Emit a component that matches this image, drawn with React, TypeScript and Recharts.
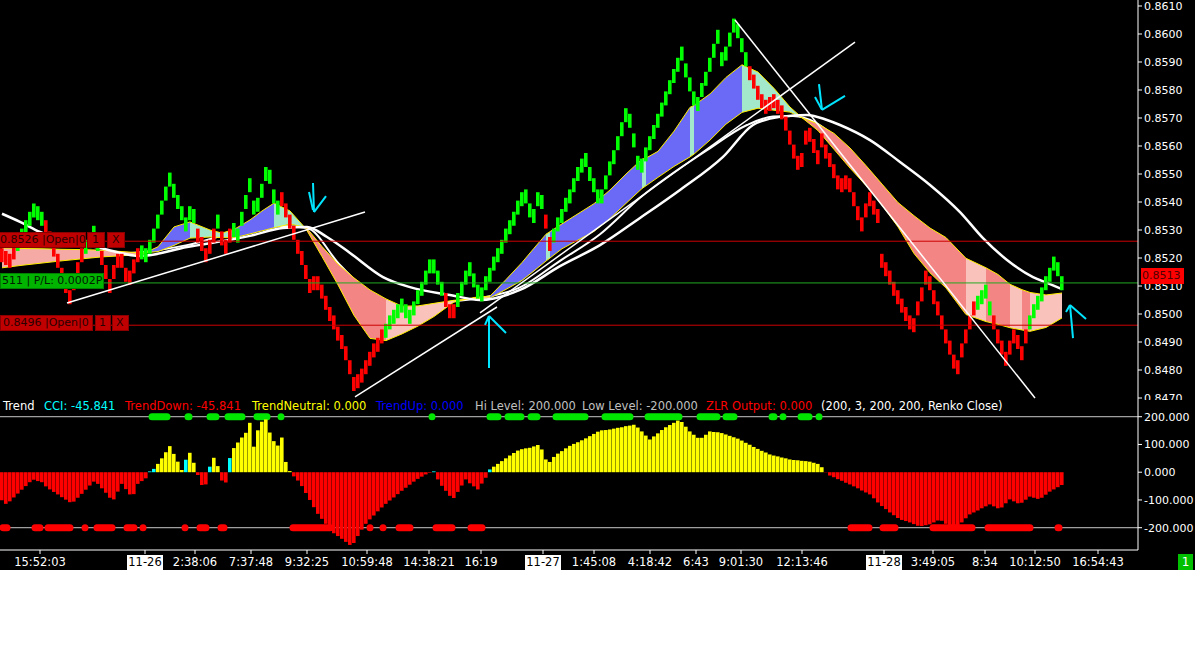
import React from 'react';
import { ComposedChart, Bar, Line, Area, XAxis, YAxis, ReferenceLine, Cell } from 'recharts';

// ---------- DATA (prices in 1e-4 units, x = bar index) ----------
const renkoClose = [
  8521, 8520, 8519, 8522, 8525, 8528, 8531, 8534, 8537, 8536,
  8534, 8531, 8527, 8523, 8519, 8514, 8510, 8506, 8511, 8516,
  8521, 8524, 8526, 8529, 8525, 8520, 8515, 8510, 8515, 8519,
  8519, 8514, 8513, 8517, 8521, 8522, 8521, 8524, 8528, 8533,
  8538, 8543, 8548, 8544, 8540, 8536, 8532, 8536, 8535, 8528,
  8525, 8521, 8524, 8528, 8533, 8527, 8524, 8528, 8530, 8528,
  8534, 8540, 8546, 8538, 8539, 8544, 8550, 8549, 8542, 8538,
  8541, 8537, 8533, 8529, 8524, 8520, 8515, 8510, 8511, 8511,
  8508, 8504, 8500, 8497, 8493, 8490, 8486, 8481, 8475, 8476,
  8478, 8481, 8484, 8487, 8489, 8492, 8494, 8497, 8499, 8501,
  8503, 8501, 8499, 8502, 8506, 8509, 8513, 8517, 8517, 8513,
  8509, 8505, 8501, 8501, 8505, 8509, 8513, 8516, 8512, 8508,
  8507, 8511, 8514, 8518, 8521, 8524, 8528, 8531, 8534, 8538,
  8541, 8542, 8537, 8535, 8541, 8540, 8533, 8525, 8528, 8532,
  8535, 8539, 8542, 8546, 8550, 8553, 8555, 8550, 8546, 8542,
  8542, 8547, 8552, 8556, 8561, 8566, 8571, 8569, 8562, 8554,
  8553, 8557, 8561, 8565, 8569, 8573, 8577, 8581, 8585, 8589,
  8593, 8587, 8582, 8577, 8575, 8580, 8584, 8589, 8594, 8599,
  8591, 8593, 8598, 8603, 8601, 8596, 8591, 8586, 8583, 8579,
  8576, 8574, 8575, 8576, 8574, 8572, 8568, 8563, 8558, 8554,
  8555, 8563, 8564, 8560, 8556, 8562, 8558, 8555, 8551, 8547,
  8546, 8547, 8546, 8541, 8536, 8532, 8537, 8541, 8538, 8535,
  8519, 8516, 8513, 8509, 8506, 8503, 8500, 8497, 8496, 8502,
  8507, 8513, 8511, 8506, 8502, 8497, 8492, 8488, 8483, 8481,
  8487, 8492, 8497, 8502, 8504, 8506, 8508, 8502, 8497, 8492,
  8488, 8484, 8488, 8492, 8490, 8486, 8492, 8497, 8501, 8504,
  8507, 8511, 8514, 8518, 8516, 8511,
];
// trend colour of each brick, run-length: G = up trend, R = down trend
const renkoColorRuns: [string, number][] = [
  ['R', 4], ['G', 7], ['R', 10], ['G', 4], ['R', 10], ['G', 14], ['R', 5], ['G', 1], ['R', 3], ['G', 12],
  ['R', 26], ['G', 15], ['R', 3], ['G', 22], ['R', 2], ['G', 49], ['R', 57], ['G', 4], ['R', 9], ['G', 9],
];
const BRICK_HALF = 2.5;

const ribbonIdx = [0, 5, 10, 15, 20, 25, 30, 35, 39, 43, 47, 52, 55, 58, 62, 65, 68, 72, 76, 80, 84, 88, 92, 96, 100, 104, 108, 113, 118, 122, 126, 130, 133, 136, 137, 140, 144, 148, 152, 156, 160, 161, 164, 168, 172, 173, 177, 181, 185, 189, 193, 197, 200, 204, 208, 212, 216, 220, 224, 228, 232, 236, 241, 246, 249, 252, 255, 257, 261, 265];
const ribbonFast = [8516.5, 8517.4, 8518.2, 8519.0, 8519.7, 8520.4, 8520.8, 8521.4, 8524.0, 8531.1, 8532.9, 8530.0, 8528.9, 8530.2, 8533.6, 8536.8, 8539.6, 8536.8, 8530.4, 8520.5, 8510.4, 8499.5, 8491.3, 8490.5, 8492.9, 8495.7, 8499.1, 8504.3, 8505.9, 8506.4, 8512.3, 8518.4, 8523.5, 8528.5, 8529.4, 8532.2, 8535.8, 8539.4, 8544.3, 8550.0, 8555.3, 8555.7, 8558.1, 8565.3, 8573.8, 8574.5, 8578.6, 8584.5, 8589.0, 8586.4, 8580.6, 8573.9, 8570.1, 8565.5, 8558.8, 8552.1, 8545.9, 8538.9, 8531.1, 8521.6, 8514.7, 8509.3, 8499.8, 8497.3, 8496.3, 8495.1, 8494.3, 8493.8, 8495.2, 8498.6];
const ribbonSlow = [8523.6, 8523.4, 8523.3, 8523.1, 8523.0, 8522.8, 8522.3, 8521.8, 8522.3, 8524.5, 8527.1, 8527.5, 8527.3, 8527.2, 8528.6, 8529.7, 8530.8, 8532.1, 8531.0, 8524.1, 8517.8, 8512.9, 8508.6, 8505.4, 8502.8, 8502.9, 8503.8, 8504.9, 8505.4, 8505.7, 8508.8, 8512.0, 8515.4, 8518.9, 8520.0, 8523.3, 8526.4, 8529.5, 8534.1, 8539.5, 8544.8, 8545.8, 8548.8, 8552.7, 8556.1, 8557.1, 8562.1, 8567.8, 8572.0, 8573.5, 8572.8, 8572.1, 8570.1, 8567.9, 8564.5, 8559.3, 8553.0, 8546.4, 8539.8, 8535.1, 8530.7, 8527.3, 8519.9, 8516.5, 8514.1, 8510.6, 8508.7, 8507.7, 8506.8, 8507.5];
const ribbonStates: [number, number, string][] = [
  [0, 35, 'weakDown'], [35, 47, 'up'], [47, 58, 'neutralUp'], [58, 68, 'up'], [68, 76, 'neutralUp'],
  [76, 96, 'down'], [96, 122, 'neutralDown'], [122, 136, 'up'], [136, 137, 'neutralUp'], [137, 160, 'up'],
  [160, 161, 'neutralUp'], [161, 172, 'up'], [172, 173, 'neutralUp'], [173, 185, 'up'], [185, 200, 'neutralUp'],
  [200, 241, 'down'], [241, 246, 'neutralDown'], [246, 252, 'down'], [252, 255, 'neutralDown'], [255, 257, 'down'],
  [257, 265, 'neutralDown'],
];

const maSlowIdx = [0, 4.5, 9.5, 17, 24.5, 34.5, 46.25, 62, 70.25, 76.25, 81.25, 87, 95.25, 102, 112, 119.5, 129.5, 139.5, 149.5, 159.5, 169.5, 180.25, 187.75, 194.5, 201.25, 206.25, 209.5, 217, 224.5, 232, 239.5, 245.25, 251.25, 257.75, 261.25, 265];
const maSlowVal = [8535.8, 8532.9, 8529.3, 8525.7, 8523.6, 8520.7, 8523.9, 8527.9, 8530.7, 8531.1, 8527.5, 8521.8, 8513.2, 8509.6, 8506.8, 8505.0, 8508.6, 8517.1, 8524.6, 8534.3, 8544.3, 8556.1, 8567.5, 8570.4, 8571.1, 8569.3, 8567.5, 8562.1, 8554.3, 8546.1, 8536.4, 8527.1, 8519.3, 8513.2, 8511.1, 8508.9];
const maFastIdx = [0, 34.5, 46.25, 62, 70.25, 76.25, 84.5, 94.5, 104.5, 112, 119.5, 129.5, 139.5, 149.5, 159.5, 176.25, 186.25, 192.75, 197.75, 209.5, 217, 224.5, 237, 249.5, 265];
const maFastVal = [8520.0, 8522.1, 8524.6, 8530.4, 8531.4, 8530.7, 8517.5, 8505.0, 8501.4, 8504.3, 8505.7, 8509.5, 8519.0, 8528.5, 8541.5, 8558.5, 8567.5, 8570.5, 8570.7, 8561.5, 8547.9, 8535.4, 8518.6, 8506.8, 8503.2];

const cciValues = [
  -101, -114, -105, -91, -77, -63, -50, -36, -27, -32,
  -36, -51, -62, -71, -80, -90, -99, -108, -106, -92,
  -78, -63, -48, -34, -42, -58, -74, -92, -98, -70,
  -42, -61, -80, -79, -42, -32, -22, 3, 12, 30,
  50, 72, 94, 66, 38, 8, 45, 70, 34, -10,
  -46, -44, 20, 52, 22, -30, -37, 51, 87, 107,
  125, 142, 178, 92, 151, 182, 190, 143, 112, 96,
  125, 37, 4, -15, -30, -50, -75, -100, -126, -150,
  -168, -186, -204, -220, -230, -240, -251, -262, -255, -230,
  -207, -186, -170, -156, -141, -127, -114, -102, -91, -79,
  -67, -56, -45, -34, -24, -16, -8, -2, 3, -26,
  -49, -67, -85, -93, -71, -48, -26, -40, -51, -62,
  -41, -20, 10, 20, 30, 40, 50, 60, 69, 78,
  83, 86, 88, 93, 98, 82, 46, 37, 55, 67,
  76, 86, 95, 102, 108, 115, 122, 130, 138, 146,
  151, 152, 154, 157, 160, 162, 166, 168, 171, 161,
  147, 132, 118, 129, 140, 152, 162, 170, 178, 186,
  181, 164, 147, 135, 124, 124, 135, 147, 145, 144,
  141, 136, 131, 126, 121, 114, 106, 99, 91, 84,
  77, 71, 64, 60, 57, 53, 50, 46, 44, 43,
  41, 40, 38, 34, 30, 18, -1, -12, -18, -25,
  -31, -38, -44, -51, -58, -66, -73, -80, -94, -109,
  -122, -133, -145, -155, -165, -172, -176, -181, -187, -193,
  -194, -191, -188, -181, -174, -175, -186, -196, -193, -190,
  -181, -166, -152, -145, -138, -130, -123, -116, -123, -130,
  -127, -112, -98, -105, -112, -110, -99, -88, -92, -96,
  -92, -81, -70, -62, -54, -46,
];
const cciNeutralBars = [37, 38, 46, 52, 57, 108, 122];

const hiDots: [number, number][] = [[37.5, 41.25], [46.5, 46.75], [52, 53.5], [56.5, 60], [63.75, 66.25], [69.75, 69.75], [107.5, 107.5], [122, 124], [126.5, 129.75], [132.25, 133.75], [138.5, 145.75], [150.75, 157], [161.5, 169.25], [174.5, 178.75], [181, 183], [192.5, 193], [195.25, 195.25], [199.75, 201.75], [204.25, 204.25]];
const loDots: [number, number][] = [[0.25, 1.25], [8.25, 9.5], [11.5, 17], [20.75, 20.75], [23.75, 27.5], [31.25, 33], [35.25, 35.25], [45.75, 45.75], [49.5, 51], [54.75, 55.5], [72.75, 82], [92, 92], [95.25, 95.25], [99.25, 102], [108.5, 112.5], [117.25, 120], [212.25, 216.75], [220.25, 223.25], [232.75, 242.5], [246.5, 257], [264, 264.25]];

const timeTickIdx = [9.5, 35.75, 48.25, 62.25, 76.25, 91.25, 106.75, 119.75, 135.25, 148, 162, 173.5, 184.75, 200, 220.5, 232.75, 245.75, 258.25, 274];
const timeTickLabels = ['15:52:03', '11-26', '2:38:06', '7:37:48', '9:32:25', '10:59:48', '14:38:21', '16:19', '11-27', '1:45:08', '4:18:42', '6:43', '9:01:30', '12:13:46', '11-28', '3:49:05', '8:34', '10:12:50', '16:54:43'];
const priceTicks = [8470, 8480, 8490, 8500, 8510, 8520, 8530, 8540, 8550, 8560, 8570, 8580, 8590, 8600, 8610];
const cciTicks = [200, 100, 0, -100, -200];

// hand-drawn trend lines and arrows [x1, p1, x2, p2]
const trendLines: number[][] = [
  [16.25, 8503.9, 90.75, 8536.4],
  [88.25, 8470.4, 123.75, 8502.5],
  [119.5, 8500.4, 213.25, 8597.1],
  [183.25, 8605.0, 258.25, 8470.0],
];
const arrowStrokes: number[][] = [
  [77.75, 8546.8, 78, 8536.4], [76.75, 8543.6, 77.75, 8537.1], [78, 8536.4, 81, 8542.1],
  [121.75, 8480.7, 121.75, 8499.3], [121.75, 8499.3, 126, 8493.2], [120.75, 8496.1, 121.75, 8499.3],
  [204.25, 8582.1, 205, 8572.9], [205, 8572.9, 210.75, 8577.9], [203.25, 8577.5, 205, 8572.9],
  [267.75, 8491.4, 267, 8503.2], [267, 8503.2, 271, 8498.2], [266, 8500.7, 267, 8503.2],
];
const orderHigh = 8526;
const orderPL = 8511.1;
const orderLow = 8496;
const lastPrice = 0.8513;

// ---------- styling ----------
const P = (u: number) => u / 10000;
const FONT = 'DejaVu Sans';
const STATE_COLORS: Record<string, string> = {
  up: '#6a6af6', neutralUp: '#a3e8cb', down: '#f48585', neutralDown: '#f9c3bc', weakDown: '#f6aaa5',
};
const Y_DOMAIN: [number, number] = [0.846929, 0.861214];
const X_DOMAIN: [number, number] = [-0.5, 284];

const brickColors = renkoColorRuns.flatMap(([c, n]) => Array(n).fill(c));
const renkoRows = renkoClose.map((c, i) => ({
  i,
  range: [P(c - BRICK_HALF), P(c + BRICK_HALF)],
  color: brickColors[i] === 'G' ? '#00ff00' : '#ff0000',
}));
const ribbonRows = ribbonIdx.map((i, k) => ({
  i,
  f: P(ribbonFast[k]),
  s: P(ribbonSlow[k]),
  band: [P(ribbonSlow[k]), P(ribbonFast[k])],
}));
const ribbonParts = ribbonStates.map(([a, b, st]) => ({
  color: STATE_COLORS[st],
  rows: ribbonRows.filter((r) => r.i >= a && r.i <= b),
}));
const maSlowRows = maSlowIdx.map((i, k) => ({ i, v: P(maSlowVal[k]) }));
const maFastRows = maFastIdx.map((i, k) => ({ i, v: P(maFastVal[k]) }));
const cciRows = cciValues.map((v, i) => ({
  i,
  cci: v,
  color: cciNeutralBars.includes(i) ? '#00ffff' : v >= 0 ? '#ffff00' : '#ff0000',
}));

function TimeTick(props: any) {
  const { x, y, payload } = props;
  const k = timeTickIdx.indexOf(payload.value);
  const label = k >= 0 ? timeTickLabels[k] : '';
  const isDate = /^\d{2}-\d{2}$/.test(label);
  return (
    <g>
      {isDate && <rect x={x - 18} y={y - 1} width={36} height={17} fill="#ffffff" />}
      <text x={x} y={y + 10} textAnchor="middle" fill={isDate ? '#000000' : '#ffffff'} fontSize={11.5} fontFamily={FONT}>
        {label}
      </text>
    </g>
  );
}

const header: [string, string, number][] = [
  ['Trend', '#ffffff', 3],
  ['CCI: -45.841', '#00ffff', 44],
  ['TrendDown: -45.841', '#ff0000', 125],
  ['TrendNeutral: 0.000', '#ffff00', 252],
  ['TrendUp: 0.000', '#0000ff', 376],
  ['Hi Level: 200.000', '#c0c0c0', 475],
  ['Low Level: -200.000', '#c0c0c0', 582],
  ['ZLR Output: 0.000', '#ff0000', 706],
  ['(200, 3, 200, 200, Renko Close)', '#ffffff', 821],
];

const boxBase: React.CSSProperties = {
  position: 'absolute', height: 16, fontFamily: FONT, fontSize: 11, lineHeight: '14px',
  whiteSpace: 'nowrap', overflow: 'hidden', boxSizing: 'border-box', paddingLeft: 2,
};
const redBox: React.CSSProperties = { ...boxBase, background: '#c00000', color: '#2a0000', border: '1px solid #8a0000' };

export default function App() {
  return (
    <div style={{ position: 'relative', width: 1195, height: 672, background: '#ffffff', overflow: 'hidden' }}>
      <style>{'body{margin:0;}'}</style>
      <div style={{ position: 'absolute', left: 0, top: 0, width: 1195, height: 570, background: '#000000' }} />

      {/* price panel */}
      <div style={{ position: 'absolute', left: 0, top: 0 }}>
        <ComposedChart width={1195} height={400} data={renkoRows} margin={{ top: 0, right: 0, bottom: 0, left: 0 }}>
          <XAxis dataKey="i" type="number" domain={X_DOMAIN} allowDataOverflow hide />
          <XAxis xAxisId="bars" dataKey="i" type="number" domain={X_DOMAIN} allowDataOverflow hide />
          <YAxis
            orientation="right"
            width={57}
            type="number"
            domain={Y_DOMAIN}
            allowDataOverflow
            ticks={priceTicks.map(P)}
            interval={0}
            tickFormatter={(v: number) => v.toFixed(4)}
            stroke="#ffffff"
            tickSize={4}
            tick={{ fill: '#ffffff', fontSize: 11, fontFamily: FONT }}
            tickLine={{ stroke: '#ffffff' }}
          />
          <Line data={maFastRows} dataKey="v" type="monotone" stroke="#ffffff" strokeWidth={2} dot={false} activeDot={false} isAnimationActive={false} zIndex={90} />
          {ribbonParts.map((part, k) => (
            <Area
              key={'rb' + k}
              data={part.rows}
              dataKey="band"
              type="linear"
              stroke="none"
              fill={part.color}
              fillOpacity={1}
              dot={false}
              activeDot={false}
              isAnimationActive={false}
              zIndex={100}
            />
          ))}
          <Line data={ribbonRows} dataKey="f" type="linear" stroke="#ffee00" strokeWidth={1} dot={false} activeDot={false} isAnimationActive={false} zIndex={110} />
          <Line data={ribbonRows} dataKey="s" type="linear" stroke="#ffee00" strokeWidth={1} dot={false} activeDot={false} isAnimationActive={false} zIndex={110} />
          <Line data={maSlowRows} dataKey="v" type="monotone" stroke="#ffffff" strokeWidth={2.5} dot={false} activeDot={false} isAnimationActive={false} zIndex={120} />
          <Bar xAxisId="bars" dataKey="range" barSize={4} isAnimationActive={false} zIndex={300}>
            {renkoRows.map((r, k) => (
              <Cell key={k} fill={r.color} />
            ))}
          </Bar>
          <ReferenceLine y={P(orderHigh)} stroke="#cc0000" strokeWidth={1} zIndex={400} />
          <ReferenceLine y={P(orderPL)} stroke="#22aa22" strokeWidth={1} zIndex={400} />
          <ReferenceLine y={P(orderLow)} stroke="#cc0000" strokeWidth={1} zIndex={400} />
          {trendLines.map((t, k) => (
            <ReferenceLine
              key={'tl' + k}
              segment={[{ x: t[0], y: P(t[1]) }, { x: t[2], y: P(t[3]) }]}
              stroke="#ffffff"
              strokeWidth={1.5}
              ifOverflow="visible"
              zIndex={450}
            />
          ))}
          {arrowStrokes.map((t, k) => (
            <ReferenceLine
              key={'ar' + k}
              segment={[{ x: t[0], y: P(t[1]) }, { x: t[2], y: P(t[3]) }]}
              stroke="#00e5ff"
              strokeWidth={2}
              ifOverflow="visible"
              zIndex={460}
            />
          ))}
        </ComposedChart>
      </div>

      {/* CCI panel */}
      <div style={{ position: 'absolute', left: 0, top: 400 }}>
        <ComposedChart width={1195} height={170} data={cciRows} margin={{ top: 0, right: 0, bottom: 0, left: 0 }}>
          <XAxis
            dataKey="i"
            type="number"
            domain={X_DOMAIN}
            allowDataOverflow
            ticks={timeTickIdx}
            interval={0}
            height={20}
            stroke="#ffffff"
            tickSize={4}
            tickLine={{ stroke: '#ffffff' }}
            tick={<TimeTick />}
          />
          <YAxis
            orientation="right"
            width={57}
            type="number"
            domain={[-280.3, 260.2]}
            allowDataOverflow
            ticks={cciTicks}
            interval={0}
            tickFormatter={(v: number) => v.toFixed(3)}
            stroke="#ffffff"
            tickSize={4}
            tick={{ fill: '#ffffff', fontSize: 11, fontFamily: FONT }}
            tickLine={{ stroke: '#ffffff' }}
          />
          <ReferenceLine y={200} stroke="#c8c8c8" strokeWidth={1} zIndex={50} />
          <ReferenceLine y={-200} stroke="#c8c8c8" strokeWidth={1} zIndex={50} />
          {hiDots.map((d, k) => (
            <ReferenceLine
              key={'hd' + k}
              segment={[{ x: d[0], y: 200 }, { x: d[1], y: 200 }]}
              stroke="#00e600"
              strokeWidth={7}
              strokeLinecap="round"
              ifOverflow="visible"
              zIndex={60}
            />
          ))}
          {loDots.map((d, k) => (
            <ReferenceLine
              key={'ld' + k}
              segment={[{ x: d[0], y: -200 }, { x: d[1], y: -200 }]}
              stroke="#ff0000"
              strokeWidth={7}
              strokeLinecap="round"
              ifOverflow="visible"
              zIndex={60}
            />
          ))}
          <Bar dataKey="cci" barSize={4} isAnimationActive={false} zIndex={300}>
            {cciRows.map((r, k) => (
              <Cell key={k} fill={r.color} />
            ))}
          </Bar>
        </ComposedChart>
      </div>

      {/* indicator header */}
      {header.map(([t, c, x], k) => (
        <div key={'h' + k} style={{ position: 'absolute', left: x, top: 399, color: c, fontFamily: FONT, fontSize: 11.5, lineHeight: '14px', whiteSpace: 'nowrap' }}>
          {t}
        </div>
      ))}

      {/* order labels */}
      <div style={{ ...redBox, left: -2, top: 232, width: 88, paddingLeft: 1 }}>0.8526 |Open|0</div>
      <div style={{ ...redBox, left: 87, top: 232, width: 18, paddingLeft: 4 }}>1</div>
      <div style={{ ...redBox, left: 107, top: 232, width: 18, paddingLeft: 4 }}>X</div>

      <div style={{ ...boxBase, left: 0, top: 273, width: 104, paddingLeft: 1, background: '#00b400', color: '#002000', border: '1px solid #008000' }}>511 | P/L: 0.0002P</div>

      <div style={{ ...redBox, left: 0, top: 315, width: 93 }}>0.8496 |Open|0</div>
      <div style={{ ...redBox, left: 95, top: 315, width: 16, paddingLeft: 3 }}>1</div>
      <div style={{ ...redBox, left: 112, top: 315, width: 17, paddingLeft: 3 }}>X</div>

      {/* last price label */}
      <div style={{ ...boxBase, left: 1141, top: 268, width: 43, height: 16, background: '#ff0000', color: '#500000', paddingLeft: 1, lineHeight: '16px' }}>
        {lastPrice.toFixed(4)}
      </div>

      {/* bar counter */}
      <div style={{ position: 'absolute', left: 1178, top: 554, width: 15, height: 16, background: '#00c000', color: '#ffffff', fontFamily: FONT, fontSize: 12, lineHeight: '16px', textAlign: 'center' }}>
        1
      </div>
    </div>
  );
}
